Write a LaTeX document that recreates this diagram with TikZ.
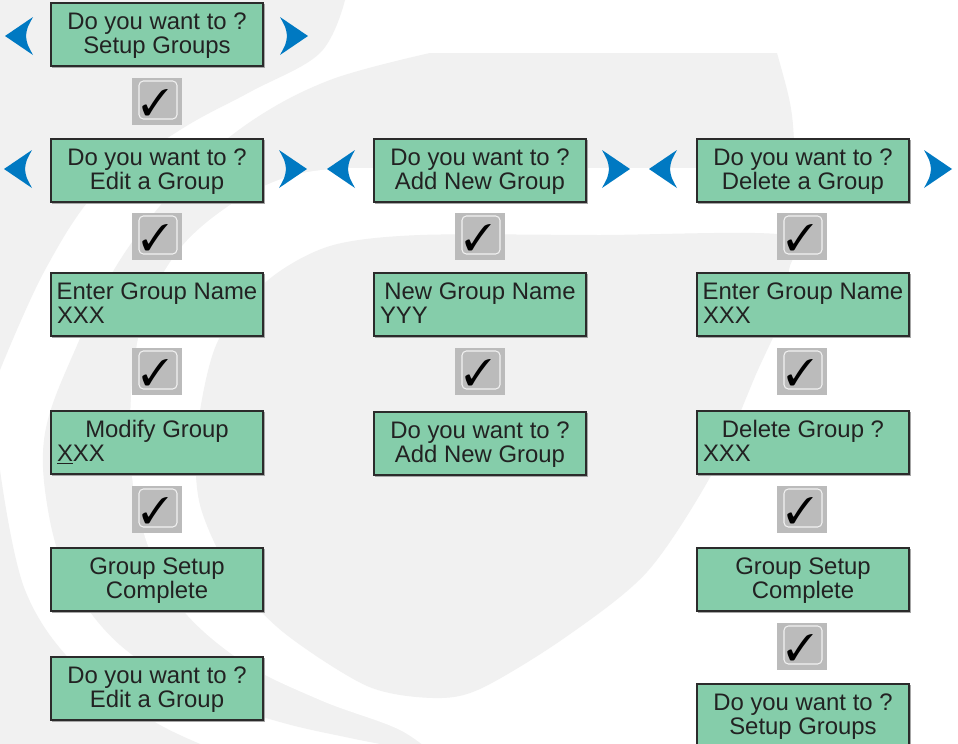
\documentclass[tikz,border=0pt]{standalone}
\usepackage{fontspec}
\setmainfont{Liberation Sans}
\usepackage{pifont}
\usetikzlibrary{calc}
\definecolor{lcd}{HTML}{85CDAA}
\definecolor{edge}{HTML}{2B2B2B}
\definecolor{keybg}{HTML}{BBBBBB}
\definecolor{navblue}{HTML}{0079C2}
\definecolor{wm}{HTML}{F1F1F1}
\definecolor{ink}{HTML}{222222}
\tikzset{
  lcdbox/.style={draw=edge, fill=lcd, line width=0.75pt, minimum width=4.24cm, minimum height=1.26cm, inner sep=0pt, outer sep=0pt},
  lcdshade/.style={draw=black!35, line width=0.6pt},
  lcdtxt/.style={font=\fontsize{13.6}{13.6}\selectfont, text=ink, inner sep=0pt, outer sep=0pt},
  keybox/.style={fill=keybg, minimum width=1cm, minimum height=0.94cm, inner sep=0pt, outer sep=0pt},
  keyrim/.style={draw=white!80!keybg, line width=0.6pt, rounded corners=2.5pt},
  tick/.style={font=\fontsize{21}{21}\selectfont, inner sep=0pt},
  navarrow/.style={fill=navblue},
  wmark/.style={fill=wm}
}
% box with two centred lines: name, left x, top y, line 1, line 2
\newcommand\lcdcc[5]{%
  \draw[lcdshade] (#2+1,#3+64.5) -- (#2+213,#3+64.5) -- (#2+213,#3+1);
  \node[lcdbox] (#1) at (#2+106,#3+31.5) {};
  \node[lcdtxt, anchor=base] (#1-a) at ($(#1.north)+(0,26.5)$) {#4};
  \node[lcdtxt, anchor=base] (#1-b) at ($(#1.north)+(0,50)$) {#5};}
% box with centred first line and left second line
\newcommand\lcdcl[5]{%
  \draw[lcdshade] (#2+1,#3+64.5) -- (#2+213,#3+64.5) -- (#2+213,#3+1);
  \node[lcdbox] (#1) at (#2+106,#3+31.5) {};
  \node[lcdtxt, anchor=base] (#1-a) at ($(#1.north)+(0,26.5)$) {#4};
  \node[lcdtxt, anchor=base west] (#1-b) at ($(#1.north west)+(6,50)$) {#5};}
% ok key: name, left x, top y
\newcommand\okkey[3]{%
  \node[keybox] (#1) at (#2+25,#3+23.5) {};
  \draw[keyrim] ($(#1.north west)+(7,3)$) rectangle ($(#1.south east)+(-5,-6)$);
  \node[tick] (#1-t) at ($(#1.center)+(-2,1)$) {\ding{51}};}
% navigation arrows: centre x, centre y
\newcommand\navL[2]{%
  \fill[navarrow] (#1-14,#2) -- (#1+14,#2-19) .. controls (#1+8,#2-8) .. (#1+7,#2) .. controls (#1+8,#2+8) .. (#1+14,#2+19) -- cycle;}
\newcommand\navR[2]{%
  \fill[navarrow] (#1+14,#2) -- (#1-14,#2-19) .. controls (#1-8,#2-8) .. (#1-7,#2) .. controls (#1-8,#2+8) .. (#1-14,#2+19) -- cycle;}

\begin{document}
\begin{tikzpicture}[x=0.02cm,y=-0.02cm]
\useasboundingbox (0,0) rectangle (958,744);
\begin{scope}
\clip (0,0) rectangle (958,744);
\fill[white] (0,0) rectangle (958,744);
% watermark
\fill[wmark] (0,0) -- plot[smooth,tension=0.6] coordinates {(345,0) (320,53) (250,92) (180,130) (100,188) (45,270) (0,370)} -- cycle;
\fill[wmark] (777,53) -- (430,53) -- plot[smooth,tension=0.6] coordinates {(430,53) (330,80) (250,122) (183,180) (120,260) (75,350) (45,433) (48,510) (70,580) (120,645) (200,695) (280,722) (350,738) (420,752) (440,760)} -- (800,760) -- (795,168) .. controls (793,110) .. (777,53) -- cycle;
\fill[white] (900,168) -- (345,168) -- plot[smooth,tension=0.6] coordinates {(345,168) (290,176) (230,205) (175,255) (140,330) (130,433) (140,520) (175,600) (240,660) (320,700) (400,730) (440,760)} -- (900,760) -- cycle;
\fill[wmark] plot[smooth cycle,tension=0.5] coordinates {(785,235) (600,235) (420,235) (330,246) (267,281) (217,343) (197,433) (200,505) (233,577) (283,632) (367,686) (433,698) (480,689) (563,639) (647,572) (713,472) (757,372) (780,320) (789,270)};
\fill[wmark] (0,470) -- plot[smooth,tension=0.6] coordinates {(0,470) (25,590) (80,670) (160,725) (240,760)} -- (0,760) -- cycle;
\end{scope}

% row 1
\lcdcc{s1}{51}{3}{Do you want to ?}{Setup Groups}
\navL{19}{36}
\navR{294}{36}
\okkey{k1}{132}{78}
% row 2
\lcdcc{e1}{51}{139}{Do you want to ?}{Edit a Group}
\lcdcc{a1}{374}{139}{Do you want to ?}{Add New Group}
\lcdcc{d1}{697}{139}{Do you want to ?}{Delete a Group}
\navL{18}{169}
\navR{293}{169}
\navL{341}{169}
\navR{616}{169}
\navL{663}{169}
\navR{938}{169}
\okkey{k2}{132}{213}
\okkey{k3}{455}{213}
\okkey{k4}{777}{213}
% row 3
\lcdcl{e2}{51}{273}{Enter Group Name}{XXX}
\lcdcl{a2}{374}{273}{New Group Name}{YYY}
\lcdcl{d2}{697}{273}{Enter Group Name}{XXX}
\okkey{k5}{132}{348}
\okkey{k6}{455}{348}
\okkey{k7}{777}{348}
% row 4
\lcdcl{e3}{51}{411}{Modify Group}{\underline{X}XX}
\lcdcc{a3}{374}{412}{Do you want to ?}{Add New Group}
\lcdcl{d3}{697}{411}{Delete Group ?}{XXX}
\okkey{k8}{132}{486}
\okkey{k9}{777}{486}
% row 5
\lcdcc{e4}{51}{548}{Group Setup}{Complete}
\lcdcc{d4}{697}{548}{Group Setup}{Complete}
\okkey{k10}{777}{623}
% row 6
\lcdcc{e5}{51}{657}{Do you want to ?}{Edit a Group}
\lcdcc{d5}{697}{684}{Do you want to ?}{Setup Groups}
\end{tikzpicture}
\end{document}
